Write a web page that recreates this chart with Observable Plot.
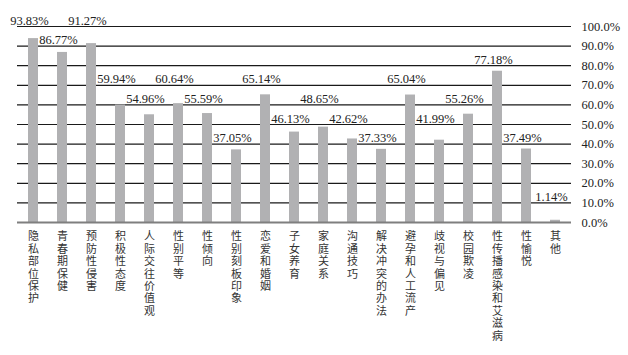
<!DOCTYPE html>
<html>
<head>
<meta charset="utf-8">
<script src="https://cdn.jsdelivr.net/npm/d3@7"></script>
<script src="https://cdn.jsdelivr.net/npm/@observablehq/plot@0.6"></script>
<style>
  html, body { margin: 0; padding: 0; background: #fff; }
  #chart svg { display: block; }
</style>
</head>
<body>
<div id="chart"></div>
<script>
const categories = ["隐私部位保护","青春期保健","预防性侵害","积极性态度","人际交往价值观","性别平等","性倾向","性别刻板印象","恋爱和婚姻","子女养育","家庭关系","沟通技巧","解决冲突的办法","避孕和人工流产","歧视与偏见","校园欺凌","性传播感染和艾滋病","性愉悦","其他"];
const values = [93.83,86.77,91.27,59.94,54.96,60.64,55.59,37.05,65.14,46.13,48.65,42.62,37.33,65.04,41.99,55.26,77.18,37.49,1.14];
const yTicks = [0,10,20,30,40,50,60,70,80,90,100];

// value labels rest on the next gridline above each bar; when two neighbours
// would share a gridline, the larger one moves up one step
const levels = values.map(v => Math.ceil(v / 10) * 10);
for (let i = 1; i < levels.length; i++) {
  if (levels[i] === levels[i - 1]) {
    if (values[i] > values[i - 1]) levels[i] += 10; else levels[i - 1] += 10;
  }
}
const rows = categories.map((c, i) => ({cat: c, value: values[i], level: levels[i]}));

const serif = "'Liberation Serif','Noto Sans CJK SC',serif";
const chart = Plot.plot({
  width: 628,
  height: 355,
  marginLeft: 17,
  marginRight: 57,
  marginTop: 26,
  marginBottom: 133,
  style: {fontFamily: serif, fontSize: "12.5px", color: "#222", background: "#fff"},
  x: {domain: categories, paddingInner: 0.66, paddingOuter: 0.33, label: null},
  y: {domain: [0, 100], label: null},
  marks: [
    Plot.ruleY(yTicks.slice(1), {stroke: "#1a1a1a", strokeWidth: 1.2}),
    Plot.barY(rows, {x: "cat", y: "value", fill: "#b1b1b3"}),
    Plot.ruleY([0], {stroke: "#7f7f7f", strokeWidth: 2}),
    Plot.axisY({ticks: yTicks, anchor: "right", tickSize: 0, tickPadding: 10, textAnchor: "start",
      tickFormat: d => d.toFixed(1) + "%", fontSize: 12.5, fill: "#222"}),
    Plot.axisX({anchor: "bottom", tickSize: 0, tickPadding: 9,
      tickFormat: d => [...d].join("\n"), lineAnchor: "top", lineHeight: 1.13,
      fontFamily: serif, fontSize: 11, fill: "#333"}),
    Plot.text(rows, {x: "cat", y: "level", text: d => d.value.toFixed(2) + "%",
      lineAnchor: "bottom", dy: -2, dx: -4, fontSize: 12.5, fill: "#222"})
  ]
});
document.getElementById("chart").appendChild(chart);
</script>
</body>
</html>
